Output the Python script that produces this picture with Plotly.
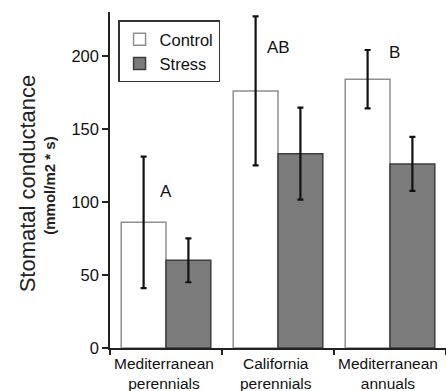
import plotly.graph_objects as go

categories = ["Mediterranean perennials", "California perennials", "Mediterranean annuals"]
cat_labels = ["Mediterranean<br>perennials", "California<br>perennials", "Mediterranean<br>annuals"]
control = [86, 176, 184]
control_err = [45, 51, 20]
stress = [60, 133, 126]
stress_err = [15, 31.5, 18.5]
letters = ["A", "AB", "B"]
letter_y = [107, 206, 202]
yticks = [0, 50, 100, 150, 200]

FONT = "Liberation Sans, Arial, Helvetica, sans-serif"

fig = go.Figure()
fig.add_trace(go.Bar(
    x=categories, y=control, name="Control",
    marker=dict(color="white", line=dict(color="#8f8f8f", width=1.5)),
    error_y=dict(type="data", array=control_err, color="#111", thickness=2.2, width=3),
))
fig.add_trace(go.Bar(
    x=categories, y=stress, name="Stress",
    marker=dict(color="#7b7b7b", line=dict(color="#3c3c3c", width=1.5)),
    error_y=dict(type="data", array=stress_err, color="#111", thickness=2.2, width=3),
))

for i, (t, yv) in enumerate(zip(letters, letter_y)):
    fig.add_annotation(x=categories[i], y=yv, text=t, showarrow=False,
                       font=dict(size=17, color="#111", family=FONT),
                       xshift=4 if i == 2 else 0)

for i, lab in enumerate(cat_labels):
    fig.add_annotation(x=categories[i], y=0, yref="paper", text=lab, showarrow=False,
                       yanchor="middle", yshift=-25, xshift=-2,
                       font=dict(size=15.5, color="#111", family=FONT))

fig.add_annotation(xref="paper", yref="paper", x=0, y=0.49, xshift=-83,
                   text="Stomatal conductance", textangle=-90, showarrow=False,
                   xanchor="center", yanchor="middle",
                   font=dict(size=22, color="#222", family=FONT))
fig.add_annotation(xref="paper", yref="paper", x=0, y=0.483, xshift=-60,
                   text="<b>(mmol/m2 * s)</b>", textangle=-90, showarrow=False,
                   xanchor="center", yanchor="middle",
                   font=dict(size=15, color="#222", family=FONT))

fig.update_layout(
    width=446, height=391,
    margin=dict(l=110, r=0, t=12, b=43),
    paper_bgcolor="white", plot_bgcolor="white",
    barmode="group", bargap=0.2, bargroupgap=0,
    font=dict(family=FONT, color="#111", size=16),
    showlegend=True,
    legend=dict(x=0.024, y=0.975, xanchor="left", yanchor="top",
                bordercolor="#333", borderwidth=1.5, bgcolor="white",
                font=dict(size=16.5), itemwidth=30, tracegroupgap=0),
    xaxis=dict(showline=True, linecolor="#222", linewidth=1.5, ticks="outside",
               tickson="boundaries", ticklen=5, tickcolor="#222", tickwidth=1.5,
               showticklabels=False, showgrid=False, automargin=False),
    yaxis=dict(range=[0, 230], tickvals=yticks, showline=True, linecolor="#222",
               linewidth=1.5, ticks="outside", ticklen=6, tickcolor="#222", tickwidth=1.5,
               tickfont=dict(size=16.5), showgrid=False, zeroline=False, automargin=False),
)

fig.write_html("out.html", config={"displayModeBar": False},
               post_script="document.body.style.margin='0px';")
